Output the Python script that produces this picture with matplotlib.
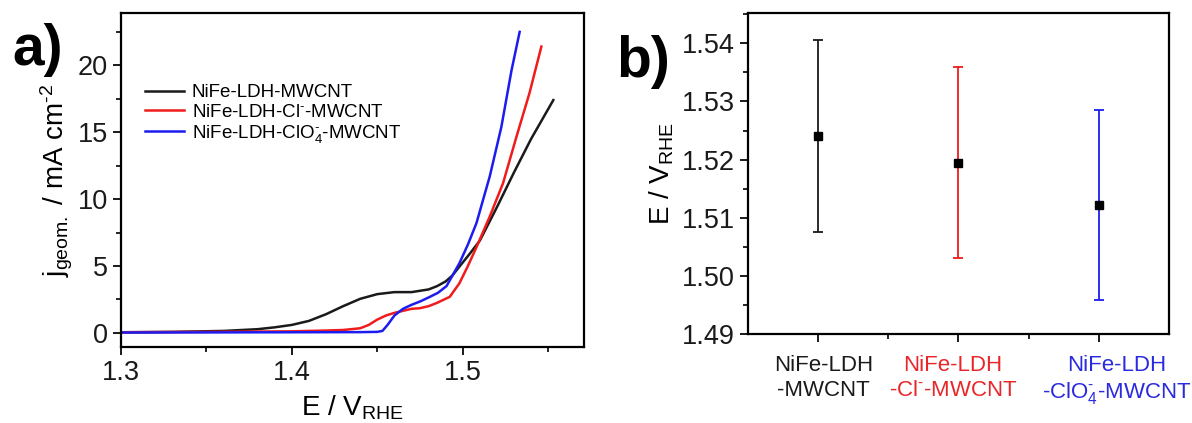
import numpy as np
import matplotlib.pyplot as plt
from matplotlib.ticker import MultipleLocator
import matplotlib.transforms as mtransforms

plt.rcParams['font.family'] = ['Liberation Sans', 'DejaVu Sans']
plt.rcParams['mathtext.fontset'] = 'custom'
plt.rcParams['mathtext.rm'] = 'Liberation Sans'
plt.rcParams['mathtext.it'] = 'Liberation Sans'
plt.rcParams['mathtext.default'] = 'regular'

# ---- panel a: polarisation curves ----
e_black = [1.30, 1.33, 1.36, 1.38, 1.39, 1.40, 1.41, 1.42, 1.43, 1.44, 1.45,
           1.46, 1.47, 1.48, 1.485, 1.49, 1.494, 1.498, 1.504, 1.51, 1.52,
           1.53, 1.54, 1.553]
j_black = [0.05, 0.08, 0.15, 0.28, 0.42, 0.6, 0.9, 1.4, 2.0, 2.55, 2.9,
           3.05, 3.05, 3.25, 3.5, 3.85, 4.3, 4.95, 5.9, 6.9, 9.4,
           12.0, 14.5, 17.4]

e_red = [1.30, 1.35, 1.40, 1.42, 1.43, 1.44, 1.445, 1.45, 1.455, 1.46, 1.465,
         1.47, 1.475, 1.48, 1.485, 1.4924, 1.498, 1.503, 1.508, 1.5158,
         1.5236, 1.5314, 1.539, 1.546]
j_red = [0.05, 0.08, 0.12, 0.18, 0.22, 0.35, 0.6, 1.0, 1.3, 1.5, 1.65,
         1.8, 1.85, 2.0, 2.25, 2.7, 3.7, 5.0, 6.4, 8.7,
         11.2, 14.65, 17.9, 21.4]

e_blue = [1.30, 1.35, 1.40, 1.44, 1.45, 1.453, 1.456, 1.46, 1.465, 1.47,
          1.475, 1.48, 1.4855, 1.4905, 1.498, 1.503, 1.508, 1.5158, 1.5226,
          1.5285, 1.5333]
j_blue = [0.03, 0.04, 0.05, 0.06, 0.08, 0.15, 0.6, 1.3, 1.8, 2.1,
          2.35, 2.65, 3.0, 3.5, 5.2, 6.6, 8.2, 11.7, 15.4,
          19.6, 22.5]

labels_a = ['NiFe-LDH-MWCNT', 'NiFe-LDH-Cl$^{\\text{-}}$-MWCNT',
            'NiFe-LDH-ClO$_4^{\\text{-}}$-MWCNT']
colors = ['#1a1a1a', '#f01c1c', '#1c1cf0']

# ---- panel b: potential with error bars ----
cats = ['NiFe-LDH\n-MWCNT', 'NiFe-LDH\n-Cl$^{\\text{-}}$-MWCNT',
        'NiFe-LDH\n-ClO$_4^{\\text{-}}$-MWCNT']
cat_pos = [1, 2, 3]
e_mean = [1.5241, 1.5195, 1.5122]
e_err = [0.0165, 0.0164, 0.0164]
cat_colors = ['#1a1a1a', '#e8262a', '#2a2adf']
cat_shift = [0.04, -0.04, 0.13]

fig = plt.figure(figsize=(11.92, 4.23), dpi=100)
ax1 = fig.add_axes([0.1015, 0.1797, 0.3885, 0.7893])
ax2 = fig.add_axes([0.6275, 0.2104, 0.3532, 0.7586])

for e, j, lab, c in zip([e_black, e_red, e_blue], [j_black, j_red, j_blue],
                        labels_a, colors):
    ax1.plot(e, j, color=c, lw=1.8, label=lab)

ax1.set_xlim(1.30, 1.571)
ax1.set_ylim(-1.05, 23.9)
ax1.xaxis.set_major_locator(MultipleLocator(0.1))
ax1.xaxis.set_minor_locator(MultipleLocator(0.05))
ax1.yaxis.set_major_locator(MultipleLocator(5))
ax1.yaxis.set_minor_locator(MultipleLocator(2.5))
ax1.xaxis.set_major_formatter(plt.FormatStrFormatter('%.1f'))
ax1.set_xlabel('E / V$_{RHE}$', fontsize=20, labelpad=5)
ax1.set_ylabel('j$_{geom.}$ / mA cm$^{\\text{-}2}$', fontsize=20, labelpad=2)
ax1.legend(loc='upper left', bbox_to_anchor=(0.035, 0.81), frameon=False,
           fontsize=13.5, handlelength=2.1, handletextpad=0.4,
           labelspacing=0.12, borderaxespad=0)

for x, m, err, c in zip(cat_pos, e_mean, e_err, colors):
    ax2.errorbar(x, m, yerr=err, fmt='none', ecolor=c,
                 elinewidth=1.3, capsize=3.5, capthick=1.3)
ax2.plot(cat_pos, e_mean, 's', color='black', ms=6, zorder=3)
ax2.set_xlim(0.5, 3.5)
ax2.set_ylim(1.49, 1.5452)
ax2.yaxis.set_major_locator(MultipleLocator(0.01))
ax2.yaxis.set_minor_locator(MultipleLocator(0.005))
ax2.yaxis.set_major_formatter(plt.FormatStrFormatter('%.2f'))
ax2.set_xticks(cat_pos)
ax2.set_xticks([1.5, 2.5], minor=True)
ax2.set_xticklabels([])
trans = mtransforms.blended_transform_factory(ax2.transData, ax2.transAxes)
for x, lab, c, dx in zip(cat_pos, cats, cat_colors, cat_shift):
    ax2.text(x + dx, -0.065, lab, transform=trans, ha='center', va='top',
             fontsize=16, color=c, linespacing=1.25)
ax2.set_ylabel('E / V$_{RHE}$', fontsize=20, labelpad=4)

for ax in (ax1, ax2):
    for s in ax.spines.values():
        s.set_linewidth(1.6)
    ax.tick_params(which='major', direction='out', length=6, width=1.4,
                   labelsize=19.5, colors='#1a1a1a')
    ax.tick_params(which='minor', direction='out', length=3.5, width=1.2)

fig.text(0.010, 0.846, 'a)', fontsize=41, fontweight='bold', va='baseline')
fig.text(0.517, 0.818, 'b)', fontsize=41, fontweight='bold', va='baseline')

fig.savefig('out.png', dpi=100)
